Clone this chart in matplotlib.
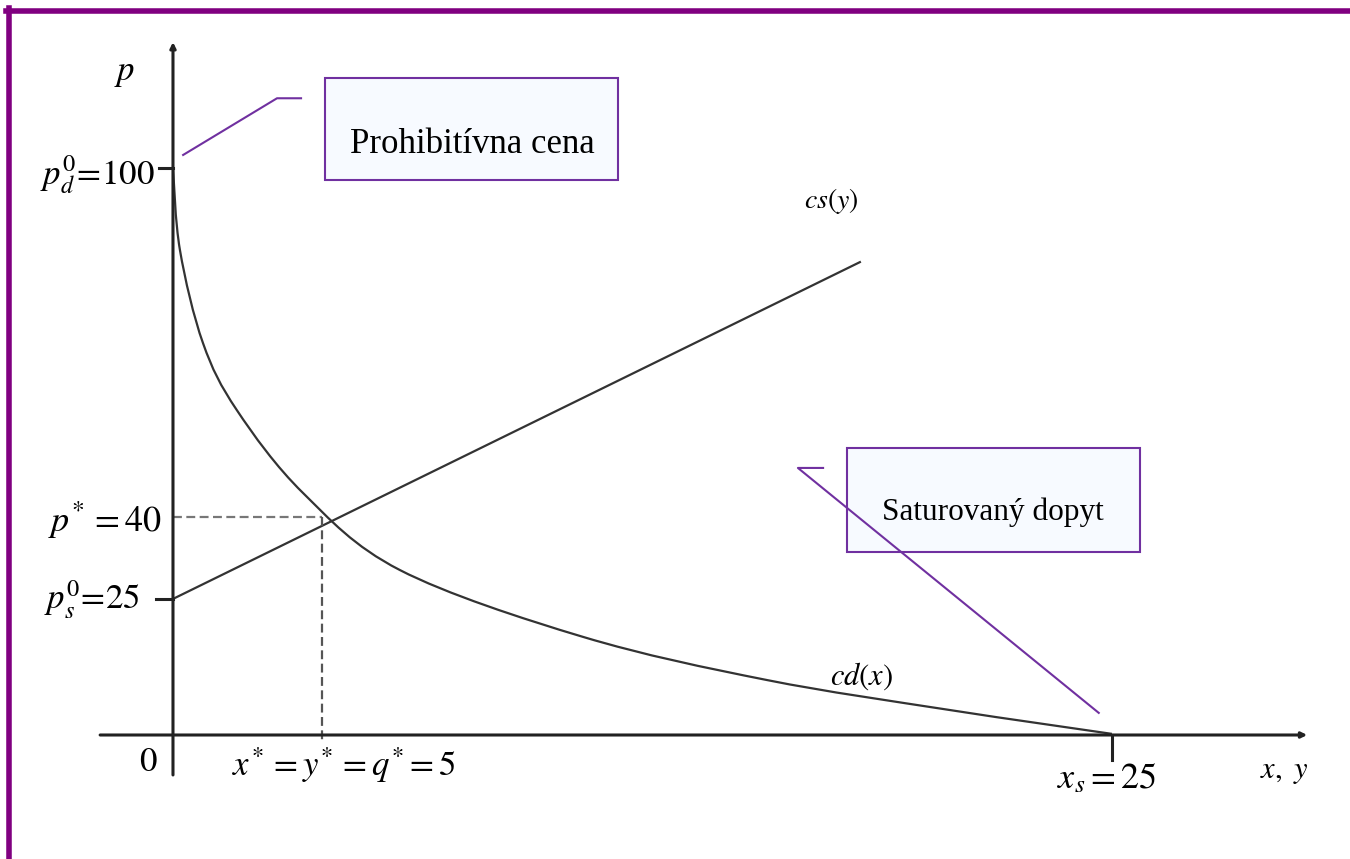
import matplotlib
matplotlib.use("Agg")
from matplotlib import pyplot as plt
from matplotlib.patches import Rectangle, PathPatch
from matplotlib.lines import Line2D
from matplotlib.path import Path

plt.rcParams['mathtext.fontset'] = 'stix'
plt.rcParams['font.family'] = ['Liberation Serif', 'DejaVu Serif']

# curves (schematic units: x 0..25, p 0..100)
demand_x = [0.0, 0.186, 0.80, 1.70, 3.46, 6.04, 10.92, 15.81, 20.69, 25.0]
demand_p = [100.0, 85.5, 69.1, 57.3, 42.7, 29.1, 17.3, 9.7, 4.4, 0.2]
supply_x = [0.0, 18.29]
supply_p = [24.0, 83.4]

# equilibrium point as drawn, and the marked axis positions
eq_x, eq_p = 3.97, 38.4
p_d0, p_s0, x_s = 100.0, 24.0, 25.0


def smooth_path(xs, ys):
    # Catmull-Rom through the read points, drawn as cubic Bezier pieces
    pts = list(zip(xs, ys))
    verts = [pts[0]]
    codes = [Path.MOVETO]
    n = len(pts)
    for i in range(n - 1):
        p0 = pts[i - 1] if i > 0 else pts[i]
        p1, p2 = pts[i], pts[i + 1]
        p3 = pts[i + 2] if i + 2 < n else pts[i + 1]
        c1 = (p1[0] + (p2[0] - p0[0]) / 6, p1[1] + (p2[1] - p0[1]) / 6)
        c2 = (p2[0] - (p3[0] - p1[0]) / 6, p2[1] - (p3[1] - p1[1]) / 6)
        verts += [c1, c2, p2]
        codes += [Path.CURVE4] * 3
    return Path(verts, codes)


fig = plt.figure(figsize=(13.5, 8.59), dpi=100)
ax = fig.add_axes([0, 0, 1, 1])
ax.set_xlim(-4.606, 31.34)
ax.set_ylim(-21.87, 129.63)
ax.axis('off')

ink = '#222222'
purple = '#7030A0'

# axes with small arrows
ax.annotate('', xy=(0, 122.2), xytext=(0, -7.05),
            arrowprops=dict(arrowstyle='-|>', lw=2.2, color=ink, mutation_scale=8, shrinkA=0, shrinkB=0))
ax.annotate('', xy=(30.2, 0), xytext=(-1.94, 0),
            arrowprops=dict(arrowstyle='-|>', lw=2.2, color=ink, mutation_scale=8, shrinkA=0, shrinkB=0))

# tick marks
ax.plot([-0.37, 0], [p_d0, p_d0], color=ink, lw=2.2)
ax.plot([-0.45, 0], [p_s0, p_s0], color=ink, lw=2.2)
ax.plot([x_s, x_s], [0, -4.4], color=ink, lw=2.2)

# curves
ax.add_patch(PathPatch(smooth_path(demand_x, demand_p), fill=False, ec='#333333', lw=1.6))
ax.plot(supply_x, supply_p, color='#333333', lw=1.6)

# equilibrium guides
ax.plot([0, eq_x], [eq_p, eq_p], color='#777777', lw=1.6, ls=(0, (4, 2)))
ax.plot([eq_x, eq_x], [eq_p, -0.8], color='#555555', lw=1.6, ls=(0, (4, 2)))

# labels
fs = 25
ax.text(-1.28, 116.8, '$p$', fontsize=fs, ha='center', va='center')
ax.text(-0.48, 98.8, r'$p_d^0\!=\!100$', fontsize=fs, ha='right', va='center')
ax.text(-0.29, 37.9, r'$p^{\!*} = 40$', fontsize=26, ha='right', va='center')
ax.text(-0.88, 23.8, r'$p_s^0\!=\!25$', fontsize=fs, ha='right', va='center')
ax.text(-0.67, -4.8, '$0$', fontsize=fs, ha='center', va='center')
ax.text(4.55, -5.3, r'$x^{\!*} = y^{\!*} = q^{\!*}\!= 5$', fontsize=fs, ha='center', va='center')
ax.text(24.87, -7.9, r'$x_s = 25$', fontsize=26, ha='center', va='center')
ax.text(29.6, -6.5, r'$x,\ y$', fontsize=22, ha='center', va='center')
ax.text(17.52, 94.2, r'$cs(y)$', fontsize=20, ha='center', va='center')
ax.text(18.34, 10.4, r'$cd(x)$', fontsize=22, ha='center', va='center')

# callout boxes
box_fc = '#F7FAFF'
ax.add_patch(Rectangle((4.05, 97.9), 7.8, 18.0, fc=box_fc, ec=purple, lw=1.5, zorder=3))
ax.text(7.96, 104.1, 'Prohibitívna cena', fontsize=25, ha='center', va='center', zorder=4)
ax.plot([0.27, 2.77, 3.41], [102.3, 112.3, 112.3], color=purple, lw=1.5)

ax.add_patch(Rectangle((17.94, 32.3), 7.81, 18.3, fc=box_fc, ec=purple, lw=1.5, zorder=3))
ax.text(21.83, 39.2, 'Saturovaný dopyt', fontsize=22.5, ha='center', va='center', zorder=4)
ax.plot([17.31, 16.64, 24.65], [47.1, 47.1, 3.9], color=purple, lw=1.5, zorder=5)

# purple frame (top and left)
fig.add_artist(Line2D([6 / 1350, 1.0], [1 - 10.5 / 859, 1 - 10.5 / 859],
                      color='#800080', lw=4, transform=fig.transFigure))
fig.add_artist(Line2D([8.5 / 1350, 8.5 / 1350], [0, 1 - 8 / 859],
                      color='#800080', lw=4, transform=fig.transFigure))

fig.savefig('out.png', dpi=100, facecolor='white')
